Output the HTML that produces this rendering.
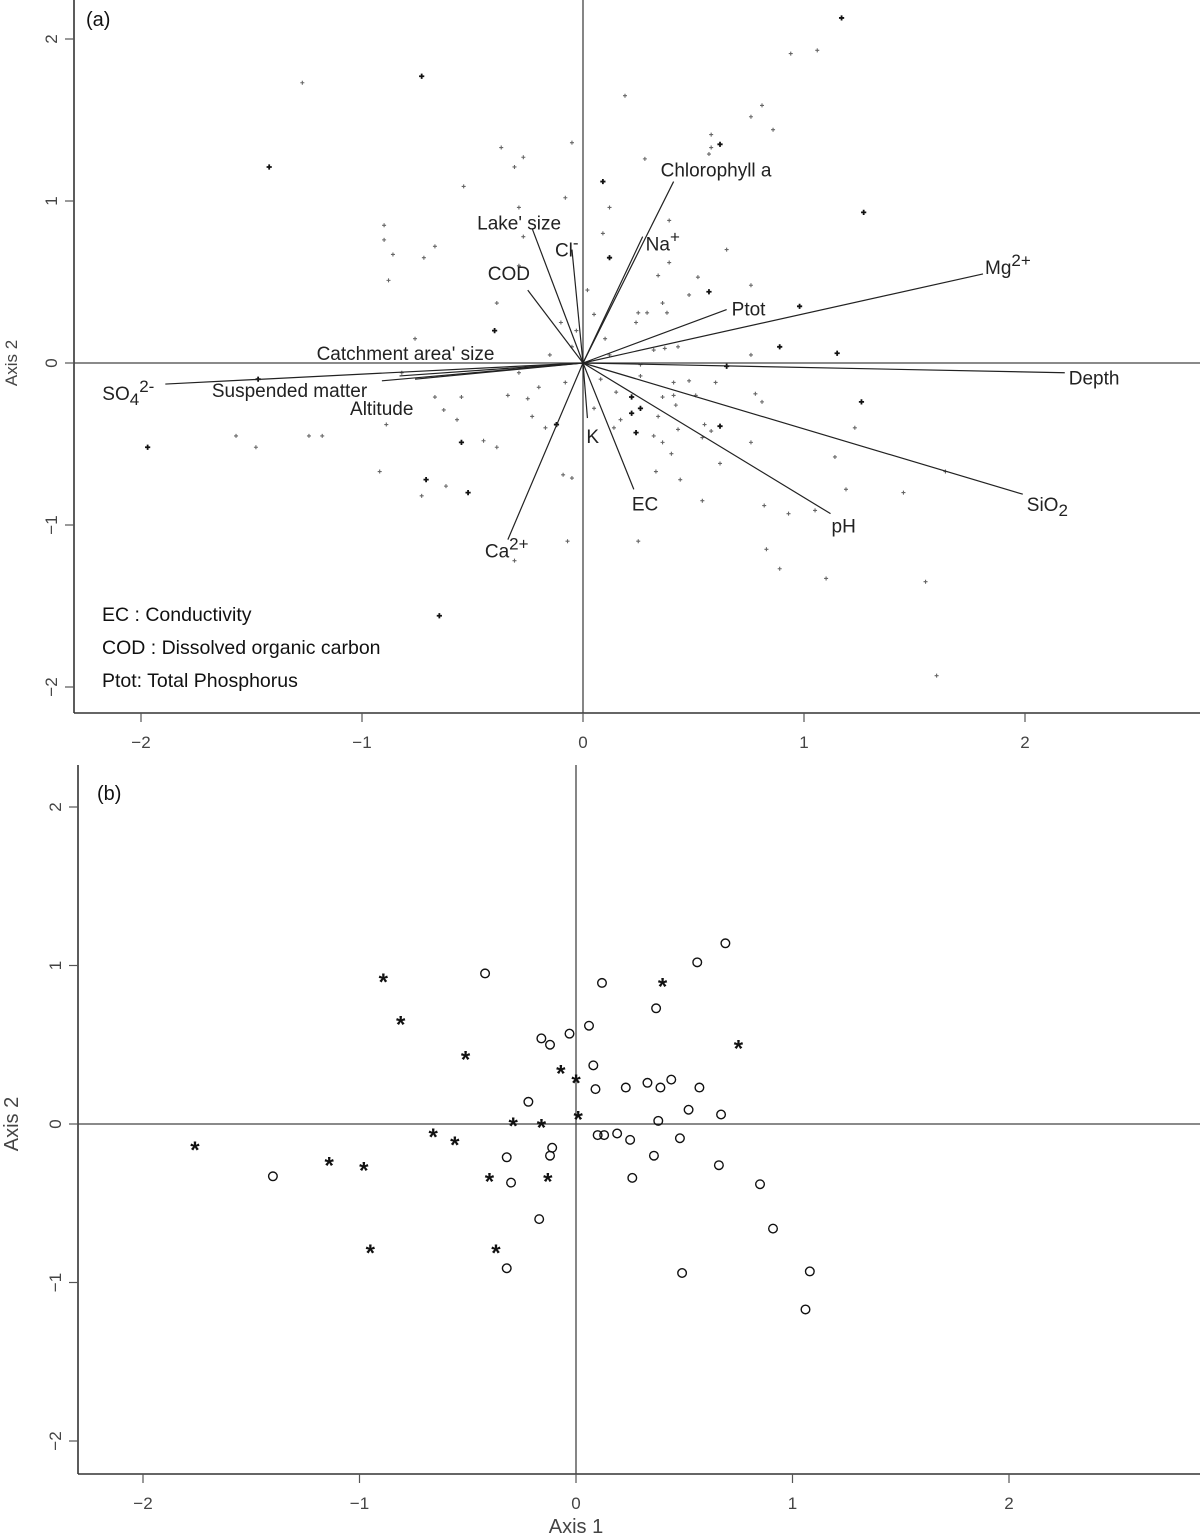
<!DOCTYPE html>
<html><head><meta charset="utf-8">
<style>
html,body{margin:0;padding:0;background:#fff;}
svg{display:block;}
text{font-family:"Liberation Sans",sans-serif;}
</style></head>
<body>
<svg id="chart" width="1200" height="1537" viewBox="0 0 1200 1537" xmlns="http://www.w3.org/2000/svg">
<g id="pa"></g>
<g id="pb"></g>
</svg>
<script>
// ---------- Panel (a) data ----------
const ticksX = [-2, -1, 0, 1, 2];
const ticksY = [-2, -1, 0, 1, 2];
const varNames = ["Chlorophyll a","Lake' size","Cl-","Na+","COD","Ptot","Mg2+","Depth","SiO2","pH","EC","K","Ca2+","Altitude","Suspended matter","Catchment area' size","SO42-"];
const varX = [0.41,-0.23,-0.05,0.27,-0.25,0.65,1.81,2.18,1.99,1.12,0.23,0.02,-0.34,-0.76,-0.91,-0.83,-1.89];
const varY = [1.12,0.83,0.70,0.78,0.45,0.33,0.55,-0.06,-0.81,-0.93,-0.78,-0.34,-1.09,-0.10,-0.11,-0.08,-0.13];
const siteAX = [-1.27,-0.73,-1.42,-0.37,-0.27,-0.31,-0.05,-0.54,-0.08,-0.29,-0.90,-0.90,-0.86,-0.72,-0.67,-0.88,-0.39,-0.40,-0.76,-0.29,-0.27,
 1.17,0.94,1.06,0.19,0.81,0.76,0.86,0.58,0.62,0.58,0.57,0.28,0.09,1.27,0.12,0.39,0.09,0.65,0.12,0.39,0.34,0.52,0.76,0.57,0.48,0.98,0.36,0.25,0.29,0.38,0.24,0.89,1.15,0.76,0.43,0.32,0.37,
 -1.97,-1.57,-1.48,-1.24,-1.18,-0.89,-0.92,-0.71,-0.62,-0.73,-0.52,-0.55,-0.45,-0.39,-0.65,-0.07,-0.31,-0.67,-0.55,-0.63,-0.57,-0.34,-0.25,-0.20,-0.23,-0.17,-0.12,-0.09,-0.05,-0.29,-1.47,-0.82,
 0.26,0.65,0.26,0.41,0.48,0.60,0.15,0.22,0.36,0.41,0.42,0.51,0.78,0.81,1.26,0.05,0.26,0.17,0.22,0.34,0.14,0.24,0.32,0.36,0.43,0.55,0.58,0.62,0.54,0.76,0.40,0.62,0.33,0.44,1.23,1.14,1.19,1.45,0.54,0.82,0.93,1.05,0.25,0.83,0.89,1.10,1.55,1.60,1.64,
 0.05,-0.10,0.10,-0.05,0.08,-0.08,0.12,-0.15,0.02,-0.03];
const siteAY = [1.73,1.77,1.21,1.33,1.27,1.21,1.36,1.09,1.02,0.96,0.85,0.76,0.67,0.65,0.72,0.51,0.37,0.20,0.15,0.60,0.78,
 2.13,1.91,1.93,1.65,1.59,1.52,1.44,1.41,1.35,1.33,1.29,1.26,1.12,0.93,0.96,0.88,0.80,0.70,0.65,0.62,0.54,0.53,0.48,0.44,0.42,0.35,0.37,0.31,0.31,0.31,0.25,0.10,0.06,0.05,0.10,0.08,0.09,
 -0.52,-0.45,-0.52,-0.45,-0.45,-0.38,-0.67,-0.72,-0.76,-0.82,-0.80,-0.49,-0.48,-0.52,-1.56,-1.10,-1.22,-0.21,-0.21,-0.29,-0.35,-0.20,-0.22,-0.15,-0.33,-0.40,-0.38,-0.69,-0.71,-0.06,-0.10,-0.06,
 -0.01,-0.02,-0.08,-0.12,-0.11,-0.12,-0.18,-0.21,-0.21,-0.20,-0.26,-0.20,-0.19,-0.24,-0.24,-0.28,-0.28,-0.35,-0.31,-0.33,-0.40,-0.43,-0.45,-0.49,-0.41,-0.38,-0.42,-0.39,-0.46,-0.49,-0.56,-0.62,-0.67,-0.72,-0.40,-0.58,-0.78,-0.80,-0.85,-0.88,-0.93,-0.91,-1.10,-1.15,-1.27,-1.33,-1.35,-1.93,-0.67,
 0.30,0.25,0.15,0.10,-0.10,-0.12,0.05,0.05,0.45,0.20];
const siteABold = [1,2,17,21,29,33,34,39,44,46,52,53,58,65,68,69,72,84,88,91,97,104,106,108,111,117];

// ---------- Panel (b) data ----------
const circX = [-0.42,0.12,0.56,0.69,0.37,0.06,-0.16,-0.12,-0.03,0.08,-0.22,0.23,0.39,0.33,0.44,0.57,0.09,0.52,0.67,0.38,-0.32,0.10,0.13,0.19,0.25,0.48,-0.11,-0.12,0.36,-0.30,-1.40,0.26,0.66,0.85,-0.17,0.91,-0.32,0.49,1.08,1.06];
const circY = [0.95,0.89,1.02,1.14,0.73,0.62,0.54,0.50,0.57,0.37,0.14,0.23,0.23,0.26,0.28,0.23,0.22,0.09,0.06,0.02,-0.21,-0.07,-0.07,-0.06,-0.10,-0.09,-0.15,-0.20,-0.20,-0.37,-0.33,-0.34,-0.26,-0.38,-0.60,-0.66,-0.91,-0.94,-0.93,-1.17];
const starX = [-0.89,-0.81,-0.51,0.40,0.75,-0.07,0.00,0.01,-1.76,-1.14,-0.98,-0.66,-0.56,-0.29,-0.16,-0.40,-0.13,-0.95,-0.37];
const starY = [0.91,0.64,0.42,0.88,0.49,0.33,0.27,0.04,-0.15,-0.25,-0.28,-0.07,-0.12,0.00,-0.01,-0.35,-0.35,-0.80,-0.80];

const NS = "http://www.w3.org/2000/svg";
function mk(parent, tag, attrs, txt){
  const e = document.createElementNS(NS, tag);
  for (const k in attrs) e.setAttribute(k, attrs[k]);
  if (txt !== undefined) e.textContent = txt;
  parent.appendChild(e);
  return e;
}

function drawFrame(g, P, yTitle, yTitleStyle){
  const sx = v => P.x0 + v*P.kx, sy = v => P.y0 - v*P.ky;
  let e;
  e = mk(g,"line",{x1:P.left,y1:P.top,x2:P.left,y2:P.bottom,stroke:"#333","stroke-width":1.6});
   
  e = mk(g,"line",{x1:P.left,y1:P.bottom,x2:1200,y2:P.bottom,stroke:"#333","stroke-width":1.6});
   
  e = mk(g,"line",{x1:sx(0),y1:P.top,x2:sx(0),y2:P.bottom,stroke:"#444","stroke-width":1.3});
   
  e = mk(g,"line",{x1:P.left,y1:sy(0),x2:1200,y2:sy(0),stroke:"#444","stroke-width":1.3});
   
  ticksX.forEach(t=>{
    const x = sx(t);
    let l = mk(g,"line",{x1:x,y1:P.bottom,x2:x,y2:P.bottom+9,stroke:"#555","stroke-width":1.2});
     
    let tx = mk(g,"text",{x:x,y:P.bottom+35,"text-anchor":"middle","font-size":17,fill:"#444"}, t<0?"\u2212"+(-t):String(t));
     
  });
  ticksY.forEach(t=>{
    const y = sy(t);
    let l = mk(g,"line",{x1:P.left-9,y1:y,x2:P.left,y2:y,stroke:"#555","stroke-width":1.2});
     
    let tx = mk(g,"text",{x:0,y:0,"text-anchor":"middle","font-size":17,fill:"#444",transform:`translate(${P.left-17},${y}) rotate(-90)`}, t<0?"\u2212"+(-t):String(t));
     
  });
  let yt = mk(g,"text",{x:0,y:0,"text-anchor":"middle","font-size":yTitleStyle.size,fill:yTitleStyle.fill,transform:`translate(${yTitleStyle.x},${sy(0)}) rotate(-90)`}, yTitle);
   
  return {sx, sy};
}

// ---------- Panel (a) ----------
(function(){
  const g = document.getElementById('pa');
  const P = {left:74, top:0, bottom:713, x0:583, kx:221, y0:363, ky:162};
  const {sx, sy} = drawFrame(g, P, "Axis 2", {x:17, size:17, fill:"#444"});
  let pl = mk(g,"text",{x:86,y:26,"font-size":20,fill:"#111"},"(a)");
   

  siteAX.forEach((v,i)=>{
    const x = sx(v), y = sy(siteAY[i]);
    const b = siteABold.indexOf(i) >= 0;
    const s = b ? 2.6 : 2;
    const p = mk(g,"path",{d:`M${x-s},${y}H${x+s}M${x},${y-s}V${y+s}`,stroke:b?"#111":"#666","stroke-width":b?1.8:1.1});
     
  });

  const lblDx = [-13,-55,-17,3,-40,5,2,4,4,1,-2,-1,-23,-65,-170,-83,-63];
  const lblDy = [-5,1,7,14,-10,6,0,12,17,19,21,25,18,36,16,-16,16];
  varNames.forEach((n,i)=>{
    const x = sx(varX[i]), y = sy(varY[i]);
    const ln = mk(g,"line",{x1:sx(0),y1:sy(0),x2:x,y2:y,stroke:"#222","stroke-width":1.2});
     
    const t = mk(g,"text",{x:x+lblDx[i],y:y+lblDy[i],"font-size":19,fill:"#222"});
     
    const sup = {"Na+":["Na","+"],"Mg2+":["Mg","2+"],"Ca2+":["Ca","2+"],"Cl-":["Cl","-"]};
    if (sup[n]) {
      t.appendChild(document.createTextNode(sup[n][0]));
      mk(t,"tspan",{dy:-8,"font-size":17},sup[n][1]);
    } else if (n==="SiO2") {
      t.appendChild(document.createTextNode("SiO"));
      mk(t,"tspan",{dy:5,"font-size":17},"2");
    } else if (n==="SO42-") {
      t.appendChild(document.createTextNode("SO"));
      mk(t,"tspan",{dy:5,"font-size":17},"4");
      mk(t,"tspan",{dy:-13,"font-size":17},"2-");
    } else t.textContent = n;
  });

  const leg = ["EC : Conductivity","COD : Dissolved organic carbon","Ptot: Total Phosphorus"];
  leg.forEach((s,i)=>{
    const t = mk(g,"text",{x:102,y:621+i*33,"font-size":19.5,fill:"#111"},s);
     
  });
})();

// ---------- Panel (b) ----------
(function(){
  const g = document.getElementById('pb');
  const P = {left:78, top:765, bottom:1474, x0:576, kx:216.5, y0:1124, ky:158.5};
  const {sx, sy} = drawFrame(g, P, "Axis 2", {x:18, size:20, fill:"#444"});
  let pl = mk(g,"text",{x:97,y:800,"font-size":20,fill:"#111"},"(b)");
   
  let xt = mk(g,"text",{x:576,y:1533,"text-anchor":"middle","font-size":20,fill:"#444"},"Axis 1");
   

  circX.forEach((v,i)=>{
    const c = mk(g,"circle",{cx:sx(v),cy:sy(circY[i]),r:4.3,fill:"none",stroke:"#111","stroke-width":1.4});
     
  });
  starX.forEach((v,i)=>{
    const t = mk(g,"text",{x:sx(v),y:sy(starY[i])+10,"text-anchor":"middle","font-size":24,"font-weight":"bold",fill:"#111"},"*");
     
  });
})();
</script>
</body></html>
